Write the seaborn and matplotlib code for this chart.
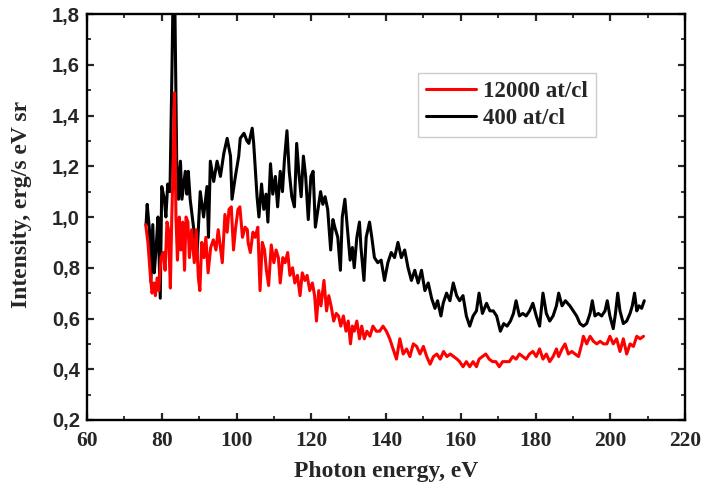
import matplotlib
matplotlib.use("Agg")
import matplotlib.pyplot as plt
from matplotlib.ticker import MultipleLocator, FuncFormatter
import seaborn as sns
import pandas as pd

black_energy = [75.8, 76.1, 76.7, 77.1, 77.6, 78.0, 78.5, 79.0, 79.6, 80.0, 80.7, 81.1, 81.6, 82.2, 82.7, 83.0, 83.5,
                84.0, 84.5, 85.0, 85.4, 86.3, 86.7, 87.1, 87.6, 88.5, 89.4, 90.3, 91.2, 92.1, 92.5, 93.0, 93.9,
                94.8, 95.7, 96.6, 97.5, 98.4, 98.8, 99.7, 100.6, 101.0, 102.0, 102.8, 103.3, 104.2, 104.6, 105.5,
                106.0, 106.7, 107.3, 107.9, 108.4, 109.1, 109.7, 110.4, 111.0, 111.7, 112.3, 112.8, 113.5, 114.1,
                114.8, 115.5, 116.1, 116.7, 117.3, 117.9, 118.5, 119.2, 119.9, 120.5, 121.1, 121.8, 122.5, 123.1,
                123.7, 124.4, 125.2, 125.8, 126.3, 127.1, 127.8, 128.3, 129.0, 129.7, 130.4, 131.0, 131.5, 132.2,
                132.9, 133.3, 134.1, 134.7, 135.6, 136.2, 136.9, 137.8, 138.7, 139.6, 140.5, 141.4, 142.3, 143.2,
                144.1, 145.0, 145.9, 146.8, 147.7, 148.6, 149.5, 150.4, 151.3, 152.2, 153.1, 153.8, 154.7, 155.3,
                156.2, 157.1, 158.0, 158.9, 159.7, 160.6, 161.5, 162.4, 163.3, 164.2, 164.9, 165.8, 166.9, 167.8,
                168.7, 169.6, 170.6, 171.5, 172.4, 173.3, 174.1, 174.8, 175.7, 176.6, 177.5, 178.4, 179.3, 180.2,
                181.1, 182.0, 182.9, 183.8, 184.7, 185.6, 186.2, 187.1, 188.0, 189.2, 190.1, 191.0, 191.9, 192.8,
                193.7, 194.6, 195.2, 195.9, 196.8, 197.7, 198.6, 199.2, 199.9, 200.8, 201.4, 202.0, 202.6, 203.5,
                204.4, 205.3, 205.9, 206.5, 207.1, 207.7, 208.4, 209.1]
black_intensity = [0.97, 1.05, 0.95, 0.745, 0.97, 0.78, 0.88, 1.00, 0.68, 1.12, 1.07, 1.00, 1.13, 1.10, 1.55, 1.85, 1.85,
                   1.22, 1.07, 1.22, 1.07, 1.18, 1.09, 1.18, 1.07, 0.96, 0.84, 1.10, 1.00, 1.12, 0.92, 1.22, 1.14,
                   1.22, 1.16, 1.25, 1.31, 1.24, 1.07, 1.16, 1.24, 1.31, 1.33, 1.30, 1.29, 1.35, 1.29, 1.08,
                   1.00, 1.13, 1.03, 1.09, 0.98, 1.21, 1.09, 1.16, 1.04, 1.18, 1.10, 1.22, 1.34, 1.18,
                   1.08, 1.04, 1.29, 1.17, 1.08, 1.24, 1.16, 0.99, 1.16, 1.18, 0.96, 1.03, 1.10, 1.05,
                   1.08, 1.03, 0.87, 0.99, 0.96, 0.92, 0.79, 1.00, 1.07, 0.95, 0.83, 0.88, 0.80, 0.92,
                   0.98, 0.88, 0.75, 0.92, 0.98, 0.92, 0.84, 0.82, 0.83, 0.75, 0.82, 0.86, 0.84, 0.90,
                   0.84, 0.87, 0.80, 0.75, 0.79, 0.74, 0.79, 0.71, 0.74, 0.68, 0.64, 0.67, 0.61, 0.66,
                   0.70, 0.67, 0.74, 0.69, 0.67, 0.69, 0.61, 0.57, 0.61, 0.63, 0.70, 0.62, 0.66, 0.63,
                   0.63, 0.61, 0.55, 0.58, 0.57, 0.59, 0.62, 0.67, 0.61, 0.62, 0.61, 0.63, 0.66, 0.61,
                   0.57, 0.70, 0.62, 0.59, 0.61, 0.65, 0.70, 0.65, 0.67, 0.65, 0.63, 0.61, 0.58, 0.57,
                   0.58, 0.62, 0.67, 0.61, 0.62, 0.61, 0.63, 0.67, 0.61, 0.56, 0.62, 0.70, 0.63, 0.58,
                   0.59, 0.62, 0.65, 0.70, 0.63, 0.65, 0.64, 0.67]

red_energy = [75.7, 76.3, 77.0, 77.4, 77.9, 78.3, 78.8, 79.2, 79.8, 80.4, 80.9, 81.4, 81.8, 82.3, 82.7, 83.0, 83.4,
              83.8, 84.2, 84.7, 85.1, 85.6, 86.1, 86.5, 87.0, 87.4, 88.0, 88.7, 89.2, 89.8, 90.2, 90.7, 91.3,
              91.8, 92.4, 93.1, 93.8, 94.5, 95.1, 95.7, 96.2, 96.9, 97.5, 98.0, 98.6, 99.2, 99.7, 100.4, 100.9,
              101.6, 102.3, 102.9, 103.1, 103.7, 104.4, 105.0, 105.7, 106.3, 106.9, 107.5, 108.0, 108.6, 109.3,
              110.0, 110.6, 111.2, 111.7, 112.4, 113.0, 113.7, 114.3, 115.0, 115.6, 116.3, 117.0, 117.6, 118.3,
              118.9, 119.6, 120.3, 120.9, 121.4, 122.0, 122.6, 123.4, 124.1, 124.7, 125.3, 126.0, 126.7, 127.3,
              127.9, 128.6, 129.3, 129.9, 130.5, 131.0, 131.5, 132.2, 132.9, 133.5, 134.2, 134.9, 135.7, 136.5,
              137.4, 138.3, 139.2, 140.1, 141.0, 141.9, 142.8, 143.7, 144.6, 145.5, 146.4, 147.3, 148.2, 149.1,
              150.0, 150.9, 151.8, 152.7, 153.6, 154.5, 155.4, 156.3, 157.2, 158.1, 159.0, 159.7, 160.6, 161.5,
              162.4, 163.3, 164.2, 164.9, 165.8, 166.7, 167.6, 168.5, 169.4, 170.3, 171.2, 172.1, 173.0, 173.9,
              174.8, 175.7, 176.6, 177.5, 178.4, 179.3, 180.2, 181.1, 182.0, 182.9, 183.8, 184.7, 185.6, 186.2,
              187.1, 187.9, 188.8, 189.7, 190.6, 191.5, 192.4, 192.8, 193.7, 194.6, 195.5, 196.4, 197.3, 198.2,
              199.1, 199.9, 200.8, 201.7, 202.6, 203.5, 204.4, 205.3, 206.2, 207.1, 208.0, 208.9]
red_intensity = [0.97, 0.90, 0.76, 0.70, 0.74, 0.69, 0.76, 0.71, 0.84, 0.86, 0.79, 0.98, 0.95, 0.72, 1.01, 1.17, 1.49,
                 1.00, 0.83, 1.00, 0.87, 0.98, 0.79, 1.00, 0.98, 0.84, 0.95, 0.82, 0.95, 0.76, 0.71, 0.90, 0.84,
                 0.92, 0.78, 0.88, 0.91, 0.87, 0.95, 0.88, 0.82, 1.01, 0.94, 1.03, 1.04, 0.87, 0.95, 1.03, 1.04,
                 0.92, 0.96, 0.95, 0.90, 0.86, 0.94, 0.92, 0.96, 0.71, 0.90, 0.87, 0.79, 0.73, 0.89,
                 0.82, 0.87, 0.84, 0.74, 0.84, 0.82, 0.86, 0.77, 0.80, 0.74, 0.77, 0.69, 0.78, 0.75,
                 0.77, 0.71, 0.74, 0.69, 0.59, 0.71, 0.65, 0.75, 0.63, 0.69, 0.65, 0.59, 0.62, 0.61,
                 0.57, 0.61, 0.55, 0.59, 0.50, 0.57, 0.55, 0.59, 0.52, 0.57, 0.52, 0.55, 0.53, 0.57,
                 0.55, 0.55, 0.57, 0.55, 0.52, 0.48, 0.44, 0.52, 0.46, 0.48, 0.45, 0.50, 0.49, 0.46,
                 0.49, 0.45, 0.42, 0.45, 0.46, 0.44, 0.47, 0.45, 0.46, 0.45, 0.44, 0.43, 0.41, 0.43,
                 0.41, 0.43, 0.41, 0.44, 0.45, 0.46, 0.44, 0.43, 0.43, 0.41, 0.43, 0.43, 0.43, 0.45,
                 0.44, 0.46, 0.45, 0.44, 0.46, 0.47, 0.45, 0.48, 0.44, 0.46, 0.43, 0.45, 0.48, 0.45,
                 0.48, 0.50, 0.46, 0.47, 0.46, 0.45, 0.50, 0.53, 0.50, 0.53, 0.51, 0.50, 0.51, 0.50,
                 0.50, 0.53, 0.50, 0.52, 0.47, 0.52, 0.46, 0.50, 0.49, 0.53, 0.52, 0.53]

series_labels = ["12000 at/cl", "400 at/cl"]
x_ticks = [60, 80, 100, 120, 140, 160, 180, 200, 220]
y_ticks = [0.2, 0.4, 0.6, 0.8, 1.0, 1.2, 1.4, 1.6, 1.8]

sns.set_style("white")
plt.rcParams["font.family"] = ["Liberation Serif", "DejaVu Serif"]

df_black = pd.DataFrame({"energy": black_energy, "intensity": black_intensity})
df_red = pd.DataFrame({"energy": red_energy, "intensity": red_intensity})

fig = plt.figure(figsize=(7.02, 4.86), dpi=100)
ax = fig.add_axes([87 / 702, 1 - 420 / 486, 598 / 702, 406 / 486])

sns.lineplot(data=df_black, x="energy", y="intensity", ax=ax, color="black", lw=2.2,
             estimator=None, sort=False, label=series_labels[1])
sns.lineplot(data=df_red, x="energy", y="intensity", ax=ax, color="#ff0000", lw=2.2,
             estimator=None, sort=False, label=series_labels[0])

ax.set_xlim(60, 220)
ax.set_ylim(0.2, 1.8)
ax.set_xticks(x_ticks)
ax.set_yticks(y_ticks)
ax.xaxis.set_minor_locator(MultipleLocator(10))
ax.yaxis.set_minor_locator(MultipleLocator(0.1))
ax.yaxis.set_major_formatter(FuncFormatter(lambda v, p: f"{v:.1f}".replace(".", ",")))
ax.xaxis.set_major_formatter(FuncFormatter(lambda v, p: f"{int(round(v))}"))

for s in ax.spines.values():
    s.set_linewidth(1.7)
    s.set_color("black")
    s.set_visible(True)

ax.tick_params(which="major", direction="in", length=5, width=1.6, top=True, right=True,
               bottom=True, left=True, pad=5)
ax.tick_params(which="minor", direction="in", length=3, width=1.3, top=True, right=True,
               bottom=True, left=True)
ax.tick_params(axis="x", which="major", pad=8)

for lab in ax.get_yticklabels():
    lab.set_family(["Liberation Sans", "DejaVu Sans"])
    lab.set_fontweight("bold")
    lab.set_fontsize(14.5)
for lab in ax.get_xticklabels():
    lab.set_family(["Liberation Serif", "DejaVu Serif"])
    lab.set_fontweight("bold")
    lab.set_fontsize(15.5)

ax.set_xlabel("Photon energy, eV", fontsize=17, fontweight="bold", labelpad=7)
ax.set_ylabel("Intensity, erg/s eV sr", fontsize=17, fontweight="bold")
ax.yaxis.set_label_coords(-0.092, 0.53)

handles, labels = ax.get_legend_handles_labels()
order = [labels.index(series_labels[0]), labels.index(series_labels[1])]
leg = ax.legend([handles[i] for i in order], [labels[i] for i in order],
                loc="upper left", bbox_to_anchor=(0.553, 0.855), frameon=True, fancybox=False,
                edgecolor="#cccccc", framealpha=1, handlelength=2.2, handletextpad=0.3,
                borderpad=0.35, borderaxespad=0, labelspacing=0.25,
                prop={"family": ["Liberation Serif"], "weight": "bold", "size": 16.5})
leg.get_frame().set_linewidth(1.0)

fig.savefig("out.png", dpi=100)
